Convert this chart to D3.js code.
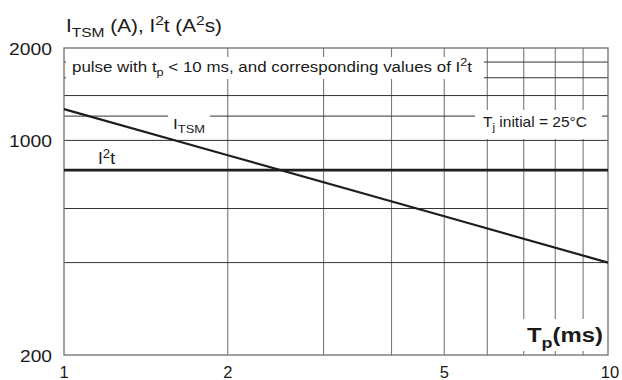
<!DOCTYPE html>
<html>
<head>
<meta charset="utf-8">
<script src="https://cdn.jsdelivr.net/npm/d3@7"></script>
<style>
  html, body { margin: 0; padding: 0; background: #fff; }
  svg { display: block; font-family: 'Liberation Sans', Arial, sans-serif; }
</style>
</head>
<body>
<svg id="chart" width="622" height="380"></svg>
<script>
// pulse width (ms) and surge values
const tpMs = [1, 2, 5, 10]
const itsmA = [1265, 895, 566, 400]
const i2tA2s = [800, 800, 800, 800]

const xTickValues = [1, 2, 5, 10]
const yTickValues = [200, 1000, 2000]
const xGridValues = [2, 3, 4, 5, 6, 7, 8, 9]
const yGridValues = [400, 600, 800, 1000, 1200, 1400, 1600, 1800]

const svg = d3.select('#chart')
const plotLeft = 64, plotRight = 608, plotTop = 48, plotBottom = 355

const x = d3.scaleLog().domain([1, 10]).range([plotLeft, plotRight])
const y = d3.scaleLog().domain([200, 2000]).range([plotBottom, plotTop])

// text with sub / superscript parts, stretched to the datasheet's wide face
function richText (parent, px, py, parts, size, opts = {}) {
  let t = parent.append('text')
    .attr('x', px)
    .attr('y', py)
    .attr('font-size', size)
    .attr('fill', '#1a1a1a')
    .attr('text-anchor', opts.anchor || 'start')
    .attr('font-weight', opts.weight || 'normal')
  let shift = 0
  parts.forEach(([s, kind]) => {
    let target = kind === 'sub' ? size * 0.28 : kind === 'sup' ? -size * 0.38 : 0
    t.append('tspan')
      .attr('dy', target - shift)
      .attr('font-size', kind ? size * 0.75 : size)
      .text(s)
    shift = target
  })
  if (opts.len) t.attr('textLength', opts.len).attr('lengthAdjust', 'spacingAndGlyphs')
  return t
}

let grid = svg.append('g').attr('class', 'grid')

// vertical grid
grid.selectAll('line.v')
  .data(xGridValues)
  .join('line')
  .attr('class', 'v')
  .attr('x1', d => x(d)).attr('x2', d => x(d))
  .attr('y1', plotTop).attr('y2', plotBottom)
  .attr('stroke', '#7a7a7a')
  .attr('stroke-width', 1.1)

// horizontal grid
grid.selectAll('line.h')
  .data(yGridValues)
  .join('line')
  .attr('class', 'h')
  .attr('x1', plotLeft).attr('x2', plotRight)
  .attr('y1', d => y(d)).attr('y2', d => y(d))
  .attr('stroke', '#333')
  .attr('stroke-width', 1)

// frame
svg.append('rect')
  .attr('x', plotLeft).attr('y', plotTop)
  .attr('width', plotRight - plotLeft).attr('height', plotBottom - plotTop)
  .attr('fill', 'none')
  .attr('stroke', '#6e6e6e')
  .attr('stroke-width', 1.3)

// label knockouts over the grid
let boxes = svg.append('g').attr('fill', '#fff')
boxes.append('rect').attr('x', 66).attr('y', 57).attr('width', 418).attr('height', 22)
boxes.append('rect').attr('x', 168).attr('y', 110).attr('width', 42).attr('height', 12)
boxes.append('rect').attr('x', 475).attr('y', 110).attr('width', 127).attr('height', 29)
boxes.append('rect').attr('x', 512).attr('y', 319).attr('width', 95).attr('height', 32)

// curves
let line = d3.line().x(d => x(d[0])).y(d => y(d[1]))
svg.append('path')
  .datum(d3.zip(tpMs, itsmA))
  .attr('d', line)
  .attr('fill', 'none')
  .attr('stroke', '#1e1e1e')
  .attr('stroke-width', 2.2)
svg.append('path')
  .datum(d3.zip(tpMs, i2tA2s))
  .attr('d', line)
  .attr('fill', 'none')
  .attr('stroke', '#1e1e1e')
  .attr('stroke-width', 2.6)

// axis tick labels
let yLen = { 200: 32, 1000: 43, 2000: 43 }
svg.append('g').selectAll('text')
  .data(yTickValues)
  .join('text')
  .attr('x', 52)
  .attr('y', d => y(d) + 6.8)
  .attr('text-anchor', 'end')
  .attr('font-size', 16.5)
  .attr('fill', '#1a1a1a')
  .attr('textLength', d => yLen[d])
  .attr('lengthAdjust', 'spacingAndGlyphs')
  .text(d => d)

svg.append('g').selectAll('text')
  .data(xTickValues)
  .join('text')
  .attr('x', d => x(d) + (d === 10 ? 2 : 0))
  .attr('y', 378)
  .attr('text-anchor', 'middle')
  .attr('font-size', 16.5)
  .attr('fill', '#1a1a1a')
  .text(d => d)

// titles and annotations
richText(svg, 66, 32, [['I'], ['TSM', 'sub'], [' (A), I'], ['2', 'sup'], ['t (A'], ['2', 'sup'], ['s)']], 18, { len: 156 })
richText(svg, 72, 72, [['pulse with t'], ['p', 'sub'], [' < 10 ms, and corresponding values of I'], ['2', 'sup'], ['t']], 15.5, { len: 400 })
richText(svg, 173, 129, [['I'], ['TSM', 'sub']], 15.5, { len: 32 })
richText(svg, 483, 127, [['T'], ['j', 'sub'], [' initial = 25°C']], 14.5, { len: 104 })
richText(svg, 98, 164, [['I'], ['2', 'sup'], ['t']], 16, { len: 17 })
richText(svg, 527, 342, [['T'], ['p', 'sub'], ['(ms)']], 20, { weight: 'bold', len: 76 })
</script>
</body>
</html>
